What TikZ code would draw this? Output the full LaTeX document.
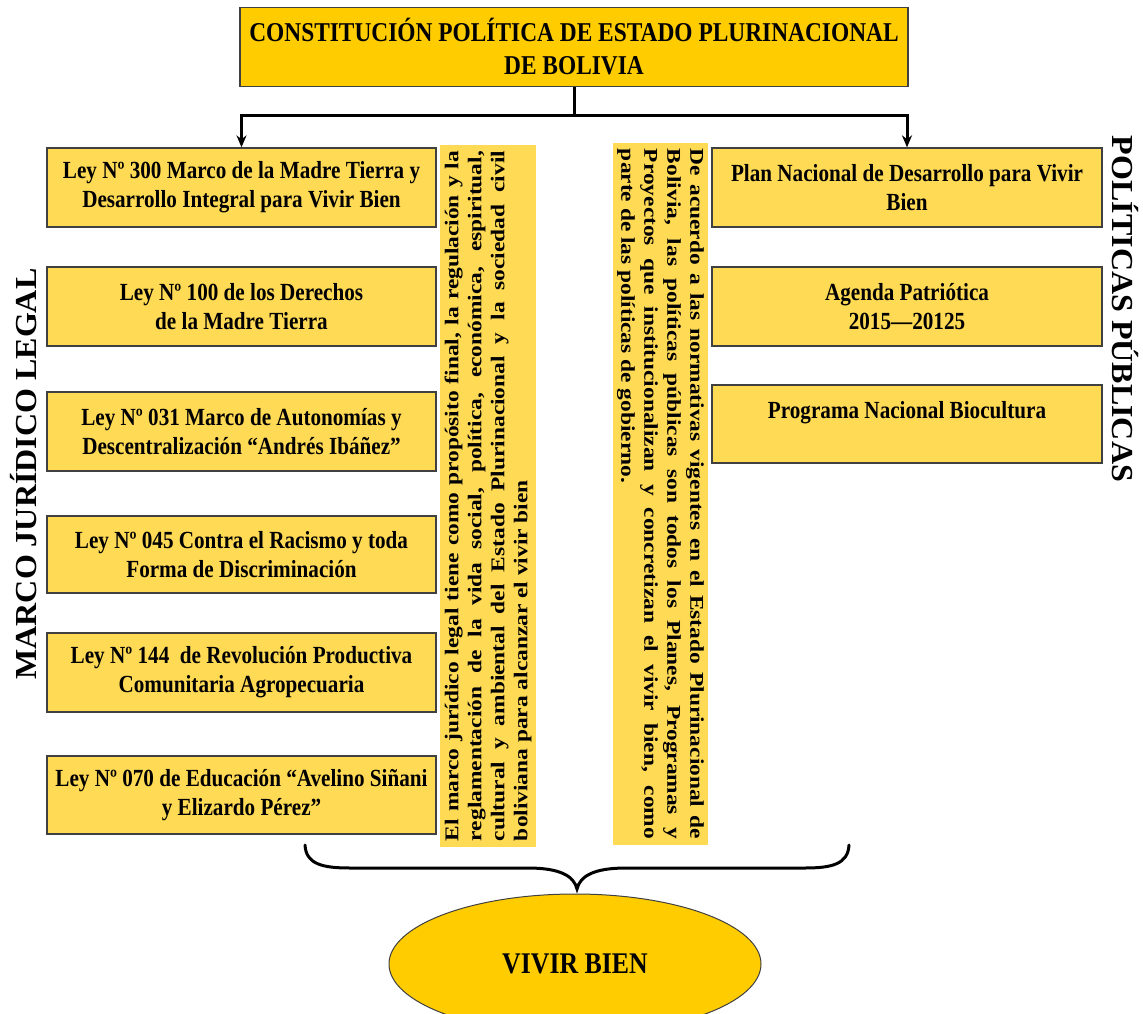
\documentclass[tikz,border=0pt]{standalone}
\usepackage{fontspec}
\setmainfont{Liberation Serif}
\newfontfamily\condfont{Liberation Serif}[FakeStretch=0.86]
\newfontfamily\widefont{Liberation Serif}[FakeStretch=1.2]
\newfontfamily\labelfont{Liberation Serif}[FakeStretch=1.05]
\usetikzlibrary{shapes.geometric,arrows.meta}
\definecolor{gold}{HTML}{FFCC00}
\definecolor{lightgold}{HTML}{FFDA55}
\definecolor{edgegray}{HTML}{404040}
\begin{document}
\begin{tikzpicture}[x=1pt,y=-1pt,
  lawbox/.style={draw=edgegray, line width=1.3pt, fill=lightgold, minimum width=389pt, minimum height=79pt, inner sep=0pt, align=center, font=\condfont\bfseries\fontsize{24.6}{29}\selectfont},
  polbox/.style={lawbox, minimum width=390pt},
  topbox/.style={draw=edgegray, line width=1.3pt, fill=gold, minimum width=668pt, minimum height=79pt, inner sep=0pt, align=center, font=\condfont\bfseries\fontsize{27.2}{33}\selectfont},
  vtext/.style={fill=lightgold, inner sep=0pt, minimum width=702pt, minimum height=96pt, text width=690pt, align=justify, font=\widefont\bfseries\fontsize{19.5}{23}\selectfont},
  sidelabel/.style={inner sep=0pt, font=\labelfont\bfseries\fontsize{30.5}{36}\selectfont},
  conn/.style={line width=3pt, draw=black},
  bracestyle/.style={line width=3pt, draw=black, line cap=round},
  goal/.style={ellipse, draw=edgegray, line width=1pt, fill=gold, minimum width=372pt, minimum height=140pt, inner sep=0pt, font=\condfont\bfseries\fontsize{30}{36}\selectfont}
]
\useasboundingbox (0,0) rectangle (1143,1014);
\clip (0,0) rectangle (1143,1014);

% top
\node[topbox] (top) at (574,47) {CONSTITUCIÓN POLÍTICA DE ESTADO PLURINACIONAL\\DE BOLIVIA};

% left column
\node[lawbox] (l1) at (241.5,187.5) {Ley Nº 300 Marco de la Madre Tierra y\\Desarrollo Integral para Vivir Bien};
\node[lawbox] (l2) at (241.5,306.5) {Ley Nº 100 de los Derechos\\de la Madre Tierra};
\node[lawbox] (l3) at (241.5,431.5) {Ley Nº 031 Marco de Autonomías y\\Descentralización “Andrés Ibáñez”};
\node[lawbox, minimum height=77pt] (l4) at (241.5,554.5) {Ley Nº 045 Contra el Racismo y toda\\Forma de Discriminación};
\node[lawbox] (l5) at (241.5,672.5) {Ley Nº 144~~de Revolución Productiva\\Comunitaria Agropecuaria};
\node[lawbox, minimum height=78pt] (l6) at (241.5,795) {Ley Nº 070 de Educación “Avelino Siñani\\y Elizardo Pérez”};

% right column
\node[polbox] (r1) at (907,187.5) {Plan Nacional de Desarrollo para Vivir\\Bien};
\node[polbox] (r2) at (907,306.5) {Agenda Patriótica\\2015—20125};
\node[polbox, minimum height=78pt] (r3) at (907,424) {Programa Nacional Biocultura\\\mbox{}};

% vertical texts
\node[vtext, rotate=90] (vl) at (488,496) {El marco jurídico legal tiene como propósito final, la regulación y la\linebreak reglamentación de la vida social, política, económica, espiritual,\linebreak cultural y ambiental del Estado Plurinacional y la sociedad civil\linebreak boliviana para alcanzar el vivir bien};
\node[vtext, rotate=-90, minimum height=95pt] (vr) at (660.5,494) {De acuerdo a las normativas vigentes en el Estado Plurinacional de\linebreak Bolivia, las políticas públicas son todos los Planes, Programas y\linebreak Proyectos que institucionalizan y concretizan el vivir bien, como\linebreak parte de las políticas de gobierno.};

% side labels
\node[sidelabel, rotate=90] (ml) at (24,474) {MARCO JURÍDICO LEGAL};
\node[sidelabel, rotate=-90] (pp) at (1125,309) {POLÍTICAS PÚBLICAS};

% connectors
\coordinate (j) at (574,116);
\draw[conn] (top.south) -- (j);
\draw[conn, -{Stealth[length=12pt,width=10pt]}] (j) -| (l1.north);
\draw[conn, -{Stealth[length=12pt,width=10pt]}] (j) -| (r1.north);

% brace
\coordinate (bl) at (305,845);
\coordinate (br) at (849,845);
\coordinate (bt) at (577,889);
\draw[bracestyle] (bl) .. controls (306,864) and (322,868) .. (350,868) -- (528,868) .. controls (560,868) and (574,876) .. (bt) .. controls (580,876) and (594,868) .. (626,868) -- (805,868) .. controls (832,868) and (848,864) .. (br);

% goal
\node[goal] (vb) at (575,964) {VIVIR BIEN};
\end{tikzpicture}
\end{document}
